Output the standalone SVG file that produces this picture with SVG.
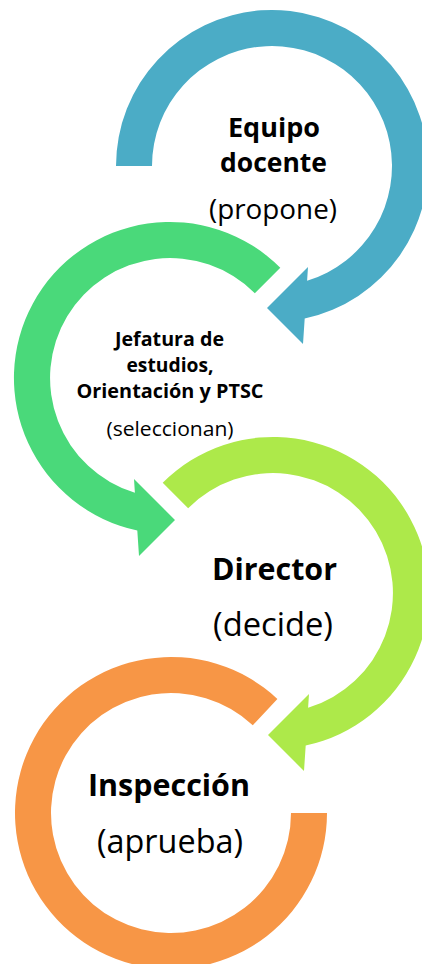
<svg xmlns="http://www.w3.org/2000/svg" width="422" height="964" viewBox="0 0 422 964">
<style>
.b{font-family:"Open Sans","Noto Sans","Liberation Sans",sans-serif;font-weight:700;fill:#000;text-anchor:middle}
.r{font-family:"Open Sans","Noto Sans","Liberation Sans",sans-serif;font-weight:400;fill:#000;text-anchor:middle}
</style>
<rect width="422" height="964" fill="#fff"/>
<g id="connectors"/>
<g id="node-equipo">
<path fill="#4BACC6" d="M116,166 A156,156 0 1 1 304.7,318.5 L303,344 L267,308 L308,267 L307.1,280.8 A120,120 0 1 0 152,166 Z"/>
<text class="b" x="274" y="137" font-size="27.5" textLength="92" lengthAdjust="spacingAndGlyphs">Equipo</text>
<text class="b" x="273.5" y="172" font-size="27.5" textLength="107" lengthAdjust="spacingAndGlyphs">docente</text>
<text class="r" x="273" y="219" font-size="27.5" textLength="128" lengthAdjust="spacingAndGlyphs">(propone)</text>
</g>
<g id="node-jefatura">
<path fill="#4AD97A" d="M280.3,267.7 A156,156 0 1 0 137.3,530.5 L139,556 L175,520 L134,479 L134.9,492.8 A120,120 0 1 1 254.85,293.15 Z"/>
<text class="b" x="169.5" y="345.5" font-size="19" textLength="109" lengthAdjust="spacingAndGlyphs">Jefatura de</text>
<text class="b" x="170" y="371.5" font-size="19" textLength="87" lengthAdjust="spacingAndGlyphs">estudios,</text>
<text class="b" x="170" y="397.5" font-size="19" textLength="187" lengthAdjust="spacingAndGlyphs">Orientación y PTSC</text>
<text class="r" x="170" y="436" font-size="19.5" textLength="127" lengthAdjust="spacingAndGlyphs">(seleccionan)</text>
</g>
<g id="node-director">
<path fill="#ADE94A" d="M162.7,482.7 A156,156 0 1 1 305.7,745.5 L304,771 L268,735 L309,694 L308.1,707.8 A120,120 0 1 0 188.15,508.15 Z"/>
<text class="b" x="274.5" y="580" font-size="31" textLength="125" lengthAdjust="spacingAndGlyphs">Director</text>
<text class="r" x="273" y="636" font-size="32" textLength="120" lengthAdjust="spacingAndGlyphs">(decide)</text>
</g>
<g id="node-inspeccion">
<path fill="#F79646" d="M277.4,698.9 A156,156 0 1 0 327,813 L291,813 A120,120 0 1 1 252.8,725.2 Z"/>
<text class="b" x="169" y="796" font-size="31" textLength="162" lengthAdjust="spacingAndGlyphs">Inspección</text>
<text class="r" x="170" y="853" font-size="32" textLength="146" lengthAdjust="spacingAndGlyphs">(aprueba)</text>
</g>
</svg>
